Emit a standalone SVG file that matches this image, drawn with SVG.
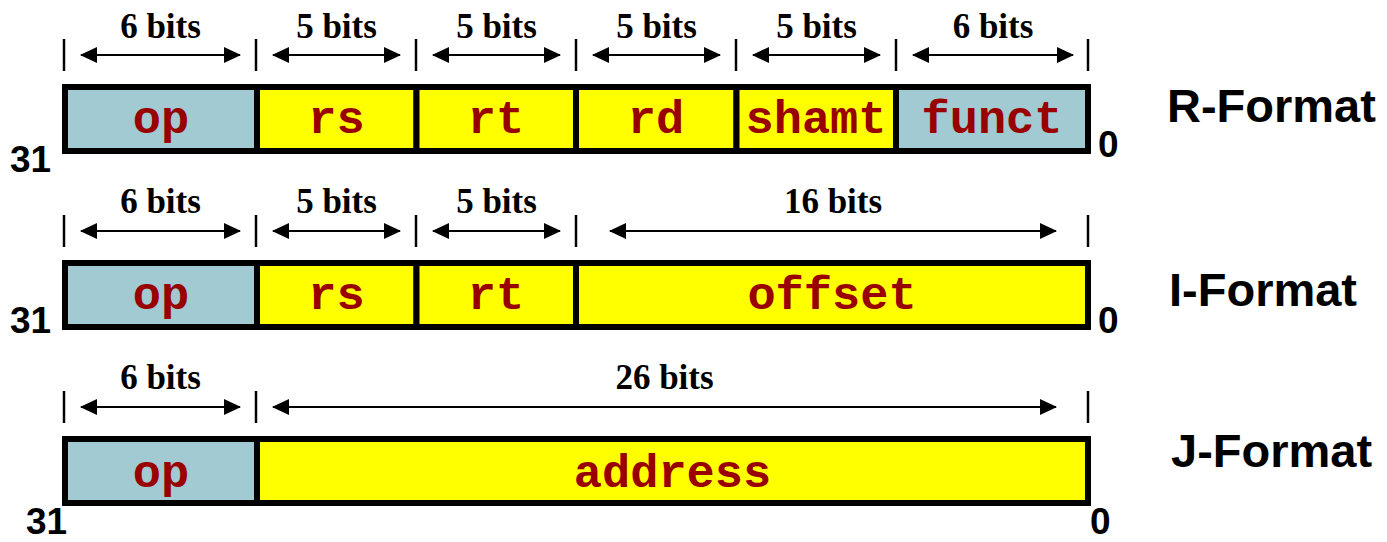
<svg xmlns="http://www.w3.org/2000/svg" width="1387" height="542" viewBox="0 0 1387 542">
<style>
.fb{fill:#A1CAD3;stroke:#000;stroke-width:6}
.fy{fill:#FFFF00;stroke:#000;stroke-width:6}
.fl{font-family:"Courier New","Liberation Mono",monospace;font-weight:bold;font-size:47px;fill:#990000;text-anchor:middle}
.bits{font-family:"Liberation Serif","Times New Roman",serif;font-weight:bold;font-size:35px;fill:#000;text-anchor:middle}
.num{font-family:"Liberation Sans",Arial,sans-serif;font-weight:bold;font-size:37px;fill:#000}
.fmt{font-family:"Liberation Sans",Arial,sans-serif;font-weight:bold;font-size:47px;fill:#000}
.tick{stroke:#000;stroke-width:2.5}
.arr{stroke:#000;stroke-width:2;marker-start:url(#ah);marker-end:url(#ah)}
</style>
<defs>
<marker id="ah" markerUnits="userSpaceOnUse" markerWidth="17" markerHeight="16" refX="16" refY="8" orient="auto-start-reverse">
<path d="M0,0 L17,8 L0,16 z" fill="#000"/>
</marker>
</defs>

<g id="r-format">
<g id="r-op"><rect class="fb" x="65" y="87" width="192" height="64"/><text class="fl" x="161" y="133">op</text></g>
<g id="r-rs"><rect class="fy" x="257" y="87" width="159.5" height="64"/><text class="fl" x="336.5" y="133">rs</text></g>
<g id="r-rt"><rect class="fy" x="416.5" y="87" width="159.5" height="64"/><text class="fl" x="496" y="133">rt</text></g>
<g id="r-rd"><rect class="fy" x="576" y="87" width="160.5" height="64"/><text class="fl" x="656" y="133">rd</text></g>
<g id="r-shamt"><rect class="fy" x="736.5" y="87" width="159.5" height="64"/><text class="fl" x="816" y="133">shamt</text></g>
<g id="r-funct"><rect class="fb" x="896" y="87" width="192" height="64"/><text class="fl" x="992" y="133">funct</text></g>
<text class="num" x="10" y="172">31</text>
<text class="num" x="1098" y="157">0</text>
<text class="fmt" x="1167" y="122">R-Format</text>
<text class="bits" x="160.5" y="38">6 bits</text>
<text class="bits" x="336.5" y="38">5 bits</text>
<text class="bits" x="496.5" y="38">5 bits</text>
<text class="bits" x="656.5" y="38">5 bits</text>
<text class="bits" x="816.5" y="38">5 bits</text>
<text class="bits" x="993" y="38">6 bits</text>
</g>

<g id="i-format">
<g id="i-op"><rect class="fb" x="65" y="263" width="192" height="64"/><text class="fl" x="161" y="309">op</text></g>
<g id="i-rs"><rect class="fy" x="257" y="263" width="159.5" height="64"/><text class="fl" x="336.5" y="309">rs</text></g>
<g id="i-rt"><rect class="fy" x="416.5" y="263" width="159.5" height="64"/><text class="fl" x="496" y="309">rt</text></g>
<g id="i-offset"><rect class="fy" x="576" y="263" width="512" height="64"/><text class="fl" x="832" y="309">offset</text></g>
<text class="num" x="10" y="333">31</text>
<text class="num" x="1098" y="333">0</text>
<text class="fmt" x="1169" y="306">I-Format</text>
<text class="bits" x="160.5" y="213">6 bits</text>
<text class="bits" x="336.5" y="213">5 bits</text>
<text class="bits" x="496.5" y="213">5 bits</text>
<text class="bits" x="833" y="213">16 bits</text>
</g>

<g id="j-format">
<g id="j-op"><rect class="fb" x="65" y="439" width="192" height="64"/><text class="fl" x="161" y="487">op</text></g>
<g id="j-address"><rect class="fy" x="257" y="439" width="831" height="64"/><text class="fl" x="672.5" y="487">address</text></g>
<text class="num" x="26" y="534">31</text>
<text class="num" x="1090" y="534">0</text>
<text class="fmt" x="1171" y="467">J-Format</text>
<text class="bits" x="160.5" y="389">6 bits</text>
<text class="bits" x="664.5" y="389">26 bits</text>
</g>

<g id="connectors">
<line class="tick" x1="64" y1="39" x2="64" y2="71"/>
<line class="tick" x1="256" y1="39" x2="256" y2="71"/>
<line class="tick" x1="416" y1="39" x2="416" y2="71"/>
<line class="tick" x1="576" y1="39" x2="576" y2="71"/>
<line class="tick" x1="736" y1="39" x2="736" y2="71"/>
<line class="tick" x1="896" y1="39" x2="896" y2="71"/>
<line class="tick" x1="1088" y1="39" x2="1088" y2="71"/>
<line class="arr" x1="81" y1="55" x2="240" y2="55"/>
<line class="arr" x1="273" y1="55" x2="400" y2="55"/>
<line class="arr" x1="433" y1="55" x2="560" y2="55"/>
<line class="arr" x1="593" y1="55" x2="720" y2="55"/>
<line class="arr" x1="753" y1="55" x2="880" y2="55"/>
<line class="arr" x1="913" y1="55" x2="1073" y2="55"/>

<line class="tick" x1="64" y1="215" x2="64" y2="247"/>
<line class="tick" x1="256" y1="215" x2="256" y2="247"/>
<line class="tick" x1="416" y1="215" x2="416" y2="247"/>
<line class="tick" x1="576" y1="215" x2="576" y2="247"/>
<line class="tick" x1="1088" y1="215" x2="1088" y2="247"/>
<line class="arr" x1="81" y1="231" x2="240" y2="231"/>
<line class="arr" x1="273" y1="231" x2="400" y2="231"/>
<line class="arr" x1="433" y1="231" x2="560" y2="231"/>
<line class="arr" x1="610" y1="231" x2="1056" y2="231"/>

<line class="tick" x1="64" y1="391" x2="64" y2="423"/>
<line class="tick" x1="256" y1="391" x2="256" y2="423"/>
<line class="tick" x1="1088" y1="391" x2="1088" y2="423"/>
<line class="arr" x1="81" y1="407" x2="240" y2="407"/>
<line class="arr" x1="273" y1="407" x2="1056" y2="407"/>
</g>
</svg>
